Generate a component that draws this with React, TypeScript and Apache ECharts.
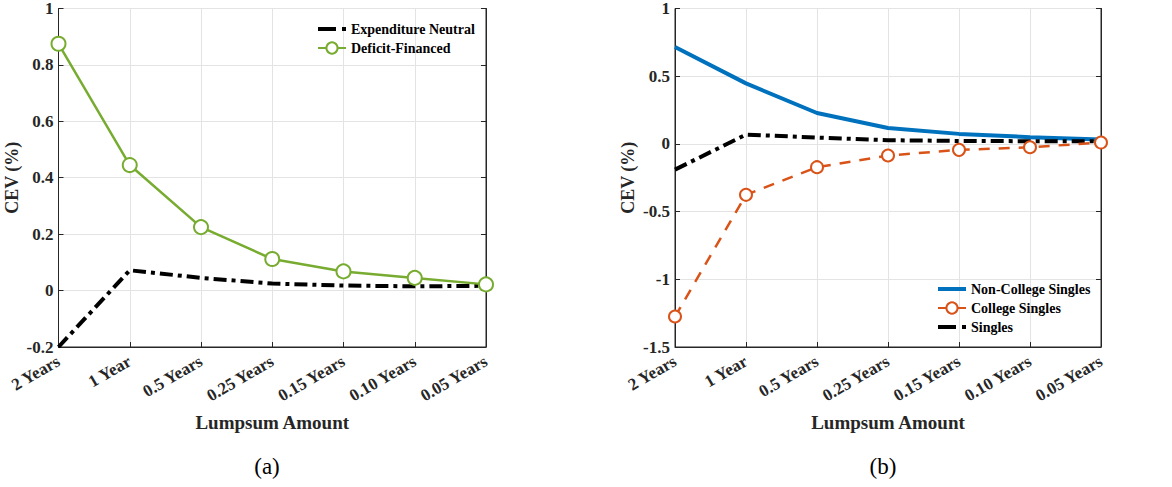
import React, { useEffect, useRef } from "react";
import * as echarts from "echarts";

const categories = ["2 Years", "1 Year", "0.5 Years", "0.25 Years", "0.15 Years", "0.10 Years", "0.05 Years"];
const expenditureNeutral = [-0.2, 0.072, 0.045, 0.025, 0.018, 0.015, 0.017];
const deficitFinanced = [0.875, 0.445, 0.225, 0.112, 0.068, 0.045, 0.022];
const nonCollegeSingles = [0.715, 0.447, 0.228, 0.118, 0.074, 0.05, 0.033];
const collegeSingles = [-1.275, -0.376, -0.172, -0.086, -0.044, -0.025, 0.01];
const singles = [-0.19, 0.069, 0.047, 0.027, 0.022, 0.02, 0.02];

const FONT = "Liberation Serif";

export default function App() {
  const ref = useRef<HTMLDivElement>(null);
  useEffect(() => {
    const chart = echarts.init(ref.current!, null, { renderer: "svg" });
    const axisColor = "#262626";
    const xAxisBase = (gridIndex: number) => ({
      type: "category",
      gridIndex,
      data: categories,
      boundaryGap: false,
      name: "Lumpsum Amount",
      nameLocation: "middle",
      nameGap: 66,
      nameTextStyle: { fontFamily: FONT, fontWeight: "bold", fontSize: 19, color: axisColor },
      axisLine: { show: true, onZero: false, lineStyle: { color: axisColor, width: 1 } },
      axisTick: { show: true, inside: true, length: 5, alignWithLabel: true, lineStyle: { color: axisColor } },
      axisLabel: { rotate: 30, fontFamily: FONT, fontWeight: "bold", fontSize: 17, color: axisColor, margin: 13, interval: 0 },
      splitLine: { show: true, lineStyle: { color: "#e3e3e3", width: 1 } },
    });
    const yAxisBase = (gridIndex: number, min: number, max: number, interval: number) => ({
      type: "value",
      gridIndex,
      min,
      max,
      interval,
      name: "CEV (%)",
      nameLocation: "middle",
      nameGap: 38,
      nameTextStyle: { fontFamily: FONT, fontWeight: "bold", fontSize: 18, color: axisColor },
      axisLine: { show: true, lineStyle: { color: axisColor, width: 1 } },
      axisTick: { show: true, inside: true, length: 5, lineStyle: { color: axisColor } },
      axisLabel: { fontFamily: FONT, fontWeight: "bold", fontSize: 17, color: axisColor, margin: 5 },
      splitLine: { show: true, lineStyle: { color: "#e3e3e3", width: 1 } },
    });
    const rightY = (gridIndex: number, min: number, max: number, interval: number) => ({
      type: "value",
      gridIndex,
      position: "right",
      min,
      max,
      interval,
      axisLine: { show: true, lineStyle: { color: axisColor, width: 1 } },
      axisTick: { show: true, inside: true, length: 5, lineStyle: { color: axisColor } },
      axisLabel: { show: false },
      splitLine: { show: false },
    });
    const legendText = { fontFamily: FONT, fontWeight: "bold", fontSize: 14, color: "#000" };
    const dashDotLegend = { type: [18, 6, 5, 100], width: 4, color: "#000" };
    chart.setOption({
      animation: false,
      backgroundColor: "#fff",
      title: [
        { text: "(a)", left: 262, top: 450, textAlign: "center", textStyle: { fontFamily: FONT, fontWeight: "normal", fontSize: 23, color: "#000" } },
        { text: "(b)", left: 878, top: 450, textAlign: "center", textStyle: { fontFamily: FONT, fontWeight: "normal", fontSize: 23, color: "#000" } },
      ],
      grid: [
        { left: 58.5, right: 686, top: 8.5, bottom: 140, show: true, borderColor: axisColor, borderWidth: 1, backgroundColor: "transparent" },
        { left: 675, right: 71, top: 8.5, bottom: 140, show: true, borderColor: axisColor, borderWidth: 1, backgroundColor: "transparent" },
      ],
      legend: [
        {
          left: 316,
          top: 22,
          padding: 0,
          orient: "vertical",
          itemWidth: 28,
          itemHeight: 14,
          itemGap: 5,
          selectedMode: false,
          textStyle: legendText,
          data: [
            { name: "Expenditure Neutral", itemStyle: { opacity: 0 }, lineStyle: dashDotLegend },
            { name: "Deficit-Financed" },
          ],
        },
        {
          left: 936,
          top: 282,
          padding: 0,
          orient: "vertical",
          itemWidth: 28,
          itemHeight: 14,
          itemGap: 5,
          selectedMode: false,
          textStyle: legendText,
          data: [
            { name: "Non-College Singles", itemStyle: { opacity: 0 }, lineStyle: { width: 4, color: "#0072BD" } },
            { name: "College Singles" },
            { name: "Singles", itemStyle: { opacity: 0 }, lineStyle: dashDotLegend },
          ],
        },
      ],
      xAxis: [xAxisBase(0), xAxisBase(1)],
      yAxis: [
        yAxisBase(0, -0.2, 1, 0.2),
        yAxisBase(1, -1.5, 1, 0.5),
        rightY(0, -0.2, 1, 0.2),
        rightY(1, -1.5, 1, 0.5),
      ],
      series: [
        {
          name: "Expenditure Neutral",
          type: "line",
          xAxisIndex: 0,
          yAxisIndex: 0,
          data: expenditureNeutral,
          symbol: "none",
          lineStyle: { color: "#000", width: 4, type: [13, 5, 4, 5] },
          itemStyle: { color: "#000" },
          z: 3,
        },
        {
          name: "Deficit-Financed",
          type: "line",
          xAxisIndex: 0,
          yAxisIndex: 0,
          data: deficitFinanced,
          symbol: "emptyCircle",
          symbolSize: 14,
          lineStyle: { color: "#77AC30", width: 2.5 },
          itemStyle: { color: "#77AC30", borderColor: "#77AC30", borderWidth: 2.5 },
          z: 4,
        },
        {
          name: "Non-College Singles",
          type: "line",
          xAxisIndex: 1,
          yAxisIndex: 1,
          data: nonCollegeSingles,
          symbol: "none",
          lineStyle: { color: "#0072BD", width: 4 },
          itemStyle: { color: "#0072BD" },
          z: 3,
        },
        {
          name: "College Singles",
          type: "line",
          xAxisIndex: 1,
          yAxisIndex: 1,
          data: collegeSingles,
          symbol: "emptyCircle",
          symbolSize: 12,
          lineStyle: { color: "#D95319", width: 2.5, type: [11, 9] },
          itemStyle: { color: "#D95319", borderColor: "#D95319", borderWidth: 2.5 },
          z: 4,
        },
        {
          name: "Singles",
          type: "line",
          xAxisIndex: 1,
          yAxisIndex: 1,
          data: singles,
          symbol: "none",
          lineStyle: { color: "#000", width: 4, type: [13, 5, 4, 5] },
          itemStyle: { color: "#000" },
          z: 3,
        },
      ],
    });
    return () => chart.dispose();
  }, []);
  return <div ref={ref} style={{ width: 1172, height: 487, position: "absolute", left: 0, top: 0 }} />;
}
